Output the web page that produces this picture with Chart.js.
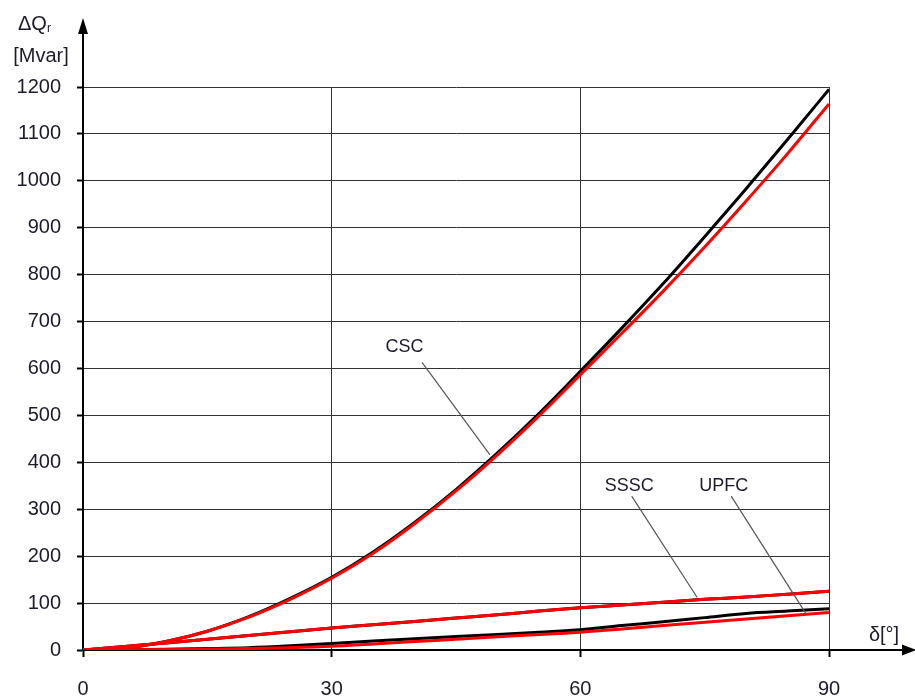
<!DOCTYPE html>
<html>
<head>
<meta charset="utf-8">
<script src="https://cdn.jsdelivr.net/npm/chart.js@4.4.1/dist/chart.umd.min.js"></script>
<style>
  html, body { margin: 0; padding: 0; background: #ffffff; }
  #wrap { width: 915px; height: 697px; }
</style>
</head>
<body>
<div id="wrap"><canvas id="c" width="915" height="697"></canvas></div>
<script>
// ---- data (δ in degrees, ΔQr in Mvar) ----
const angles = [0, 5, 10, 15, 20, 25, 30, 35, 40, 45, 50, 55, 60, 65, 70, 75, 80, 85, 90];
const cscBlack  = [0, 4, 18, 40, 71, 110, 155, 209, 272, 342, 420, 504, 594, 686, 781, 881, 983, 1088, 1195];
const cscRed    = [0, 4, 18, 40, 70, 108, 153, 206, 269, 339, 416, 499, 587, 675, 765, 859, 957, 1058, 1164];
const ssscBlack = [0, 7.5, 15, 23, 31, 39, 47, 54, 61, 68, 75, 83, 90, 96, 102, 108, 113, 119, 125];
const ssscRed   = [0, 7.5, 15, 23, 31, 39, 47, 54, 61, 68, 75, 83, 90, 96, 102, 108, 113, 119, 125];
const upfcBlack = [0, 0.5, 1.5, 3, 5, 9, 14, 19, 24, 29, 33, 38, 43, 52, 60, 69, 78, 83, 88];
const upfcRed   = [0, 0.3, 1, 2, 3, 5, 8, 13, 18, 23, 28, 33, 38, 45, 52, 59, 66, 73, 80];
const xTicks = [0, 30, 60, 90];
const yTicks = [0, 100, 200, 300, 400, 500, 600, 700, 800, 900, 1000, 1100, 1200];

// annotation labels (data coordinates)
const noteLabels = ['CSC', 'SSSC', 'UPFC'];
const noteTextAt = [[38.8, 646], [65.9, 350], [77.3, 350]];
const noteLineFrom = [[40.9, 613], [66.2, 328], [78.2, 328]];
const noteLineTo = [[49.1, 416], [74.1, 112], [87.2, 78]];

const FONT = '"Liberation Sans", Arial, sans-serif';
const TEXT = '#1b1b2b';

function pts(ys) { return angles.map((a, i) => ({ x: a, y: ys[i] })); }
function ds(ys, color, order) {
  return {
    data: pts(ys), borderColor: color, backgroundColor: color, borderWidth: 3,
    pointRadius: 0, cubicInterpolationMode: 'monotone', fill: false, order: order
  };
}

const decor = {
  id: 'decor',
  afterDraw(chart) {
    const ctx = chart.ctx, a = chart.chartArea;
    const xs = chart.scales.x, ys = chart.scales.y;
    ctx.save();
    // y axis arrow
    ctx.strokeStyle = '#000'; ctx.fillStyle = '#000'; ctx.lineWidth = 2;
    ctx.beginPath(); ctx.moveTo(a.left, a.top); ctx.lineTo(a.left, a.top - 56); ctx.stroke();
    ctx.beginPath(); ctx.moveTo(a.left, a.top - 69); ctx.lineTo(a.left - 5, a.top - 53); ctx.lineTo(a.left + 5, a.top - 53); ctx.closePath(); ctx.fill();
    // x axis arrow
    ctx.beginPath(); ctx.moveTo(a.right, a.bottom); ctx.lineTo(a.right + 76, a.bottom); ctx.stroke();
    ctx.beginPath(); ctx.moveTo(a.right + 87, a.bottom); ctx.lineTo(a.right + 73, a.bottom - 5.5); ctx.lineTo(a.right + 73, a.bottom + 5.5); ctx.closePath(); ctx.fill();
    // axis titles
    ctx.fillStyle = TEXT; ctx.textBaseline = 'middle';
    ctx.font = '20px ' + FONT; ctx.textAlign = 'left';
    ctx.fillText('\u0394Q', 18, a.top - 63);
    const w = ctx.measureText('\u0394Q').width;
    ctx.font = '12px ' + FONT;
    ctx.fillText('r', 18 + w, a.top - 58);
    ctx.font = '20px ' + FONT; ctx.textAlign = 'center';
    ctx.fillText('[Mvar]', 41, a.top - 31);
    ctx.fillText('\u03B4[\u00B0]', a.right + 55, a.bottom - 15);
    // annotations
    ctx.font = '18px ' + FONT;
    for (let i = 0; i < noteLabels.length; i++) {
      ctx.fillStyle = TEXT;
      ctx.fillText(noteLabels[i], xs.getPixelForValue(noteTextAt[i][0]), ys.getPixelForValue(noteTextAt[i][1]));
      ctx.strokeStyle = '#555'; ctx.lineWidth = 1.2;
      ctx.beginPath();
      ctx.moveTo(xs.getPixelForValue(noteLineFrom[i][0]), ys.getPixelForValue(noteLineFrom[i][1]));
      ctx.lineTo(xs.getPixelForValue(noteLineTo[i][0]), ys.getPixelForValue(noteLineTo[i][1]));
      ctx.stroke();
    }
    ctx.restore();
  }
};

new Chart(document.getElementById('c'), {
  type: 'line',
  data: {
    datasets: [
      ds(cscRed, '#ff0000', 1),
      ds(ssscRed, '#ff0000', 1),
      ds(upfcRed, '#ff0000', 1),
      ds(cscBlack, '#000000', 2),
      ds(ssscBlack, '#000000', 2),
      ds(upfcBlack, '#000000', 2)
    ]
  },
  options: {
    responsive: false,
    animation: false,
    devicePixelRatio: 1,
    layout: { padding: { top: 87, right: 86, left: 0, bottom: 0 } },
    plugins: { legend: { display: false }, tooltip: { enabled: false } },
    scales: {
      x: {
        type: 'linear', min: 0, max: 90,
        afterBuildTicks(s) { s.ticks = xTicks.map(v => ({ value: v })); },
        afterFit(s) { s.height = 47; },
        ticks: { font: { family: FONT, size: 20 }, color: TEXT, padding: 20, maxRotation: 0, autoSkip: false,
                 callback: v => String(v) },
        grid: { color: '#333', lineWidth: 1, tickLength: 7, tickColor: '#000', tickWidth: 2 },
        border: { color: '#000', width: 2 }
      },
      y: {
        type: 'linear', min: 0, max: 1200,
        afterBuildTicks(s) { s.ticks = yTicks.map(v => ({ value: v })); },
        afterFit(s) { s.width = 83; },
        ticks: { font: { family: FONT, size: 20 }, color: TEXT, padding: 16, autoSkip: false,
                 callback: v => String(v) },
        grid: { color: '#333', lineWidth: 1, tickLength: 6, tickColor: '#000', tickWidth: 2 },
        border: { color: '#000', width: 2 }
      }
    }
  },
  plugins: [decor]
});
</script>
</body>
</html>
